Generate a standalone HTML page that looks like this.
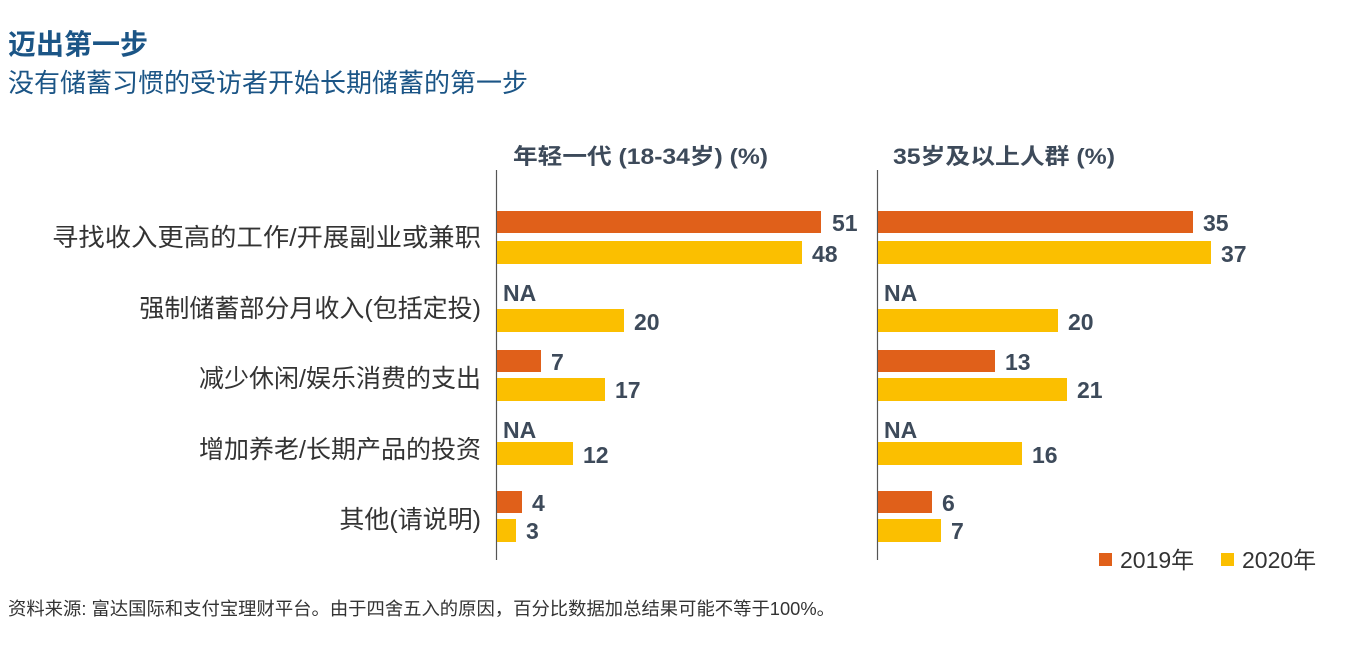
<!DOCTYPE html>
<html><head><meta charset="utf-8"><style>
html,body{margin:0;padding:0;background:#fff;width:1350px;height:647px;overflow:hidden}
svg text{font-family:"Liberation Sans","Noto Sans CJK SC",sans-serif}
</style></head><body>
<svg width="1350" height="647" viewBox="0 0 1350 647" xmlns="http://www.w3.org/2000/svg">
<text x="8" y="54" font-size="28" font-weight="bold" fill="#1b5586">迈出第一步</text>
<text x="8" y="92" font-size="26" fill="#1b5586">没有储蓄习惯的受访者开始长期储蓄的第一步</text>
<text x="513" y="164" font-size="22" font-weight="bold" fill="#3d4a5a" textLength="255" lengthAdjust="spacingAndGlyphs">年轻一代 (18-34岁) (%)</text>
<text x="893" y="164" font-size="22" font-weight="bold" fill="#3d4a5a" textLength="222" lengthAdjust="spacingAndGlyphs">35岁及以上人群 (%)</text>
<line x1="496.5" y1="170" x2="496.5" y2="560" stroke="#555" stroke-width="1.2"/>
<line x1="877.5" y1="170" x2="877.5" y2="560" stroke="#555" stroke-width="1.2"/>
<g font-size="25" fill="#333" text-anchor="end">
<text x="481" y="246" textLength="429" lengthAdjust="spacingAndGlyphs">寻找收入更高的工作/开展副业或兼职</text>
<text x="481" y="317">强制储蓄部分月收入(包括定投)</text>
<text x="481" y="387">减少休闲/娱乐消费的支出</text>
<text x="481" y="458">增加养老/长期产品的投资</text>
<text x="481" y="528">其他(请说明)</text>
</g>
<g fill="#e0601a">
<rect x="497" y="211" width="324" height="22"/>
<rect x="497" y="350" width="44" height="22"/>
<rect x="497" y="491" width="25" height="22"/>
<rect x="878" y="211" width="315" height="22"/>
<rect x="878" y="350" width="117" height="22"/>
<rect x="878" y="491" width="54" height="22"/>
</g>
<g fill="#fbbf00">
<rect x="497" y="241" width="305" height="23"/>
<rect x="497" y="309" width="127" height="23"/>
<rect x="497" y="378" width="108" height="23"/>
<rect x="497" y="442" width="76" height="23"/>
<rect x="497" y="519" width="19" height="23"/>
<rect x="878" y="241" width="333" height="23"/>
<rect x="878" y="309" width="180" height="23"/>
<rect x="878" y="378" width="189" height="23"/>
<rect x="878" y="442" width="144" height="23"/>
<rect x="878" y="519" width="63" height="23"/>
</g>
<g font-size="23" font-weight="bold" fill="#3d4a5a">
<text x="832" y="231">51</text>
<text x="812" y="262">48</text>
<text x="503" y="301">NA</text>
<text x="634" y="330">20</text>
<text x="551" y="370">7</text>
<text x="615" y="398">17</text>
<text x="503" y="438">NA</text>
<text x="583" y="463">12</text>
<text x="532" y="511">4</text>
<text x="526" y="539">3</text>
<text x="1203" y="231">35</text>
<text x="1221" y="262">37</text>
<text x="884" y="301">NA</text>
<text x="1068" y="330">20</text>
<text x="1005" y="370">13</text>
<text x="1077" y="398">21</text>
<text x="884" y="438">NA</text>
<text x="1032" y="463">16</text>
<text x="942" y="511">6</text>
<text x="951" y="539">7</text>
</g>
<rect x="1099" y="553" width="13" height="13" fill="#e0601a"/>
<text x="1120" y="568" font-size="23" fill="#333">2019年</text>
<rect x="1221" y="553" width="13" height="13" fill="#fbbf00"/>
<text x="1242" y="568" font-size="23" fill="#333">2020年</text>
<text x="8" y="615" font-size="18" fill="#333" textLength="827" lengthAdjust="spacingAndGlyphs">资料来源: 富达国际和支付宝理财平台。由于四舍五入的原因，百分比数据加总结果可能不等于100%。</text>
</svg>
</body></html>
